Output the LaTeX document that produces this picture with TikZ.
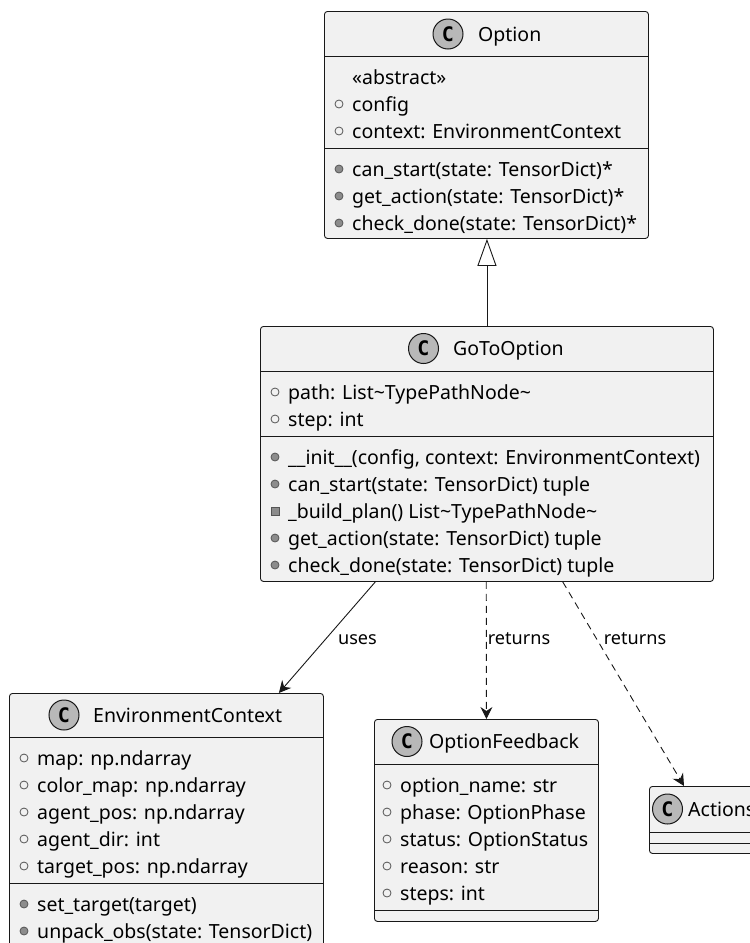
\documentclass[tikz,border=0pt]{standalone}
\usepackage{fontspec}
\setmainfont{Noto Sans}
\newfontfamily\badgefont{DejaVu Sans Mono}
\usetikzlibrary{arrows.meta,calc}

\definecolor{boxfill}{HTML}{F1F1F1}
\definecolor{ink}{HTML}{181818}
\definecolor{spot}{HTML}{B8B8B8}
\definecolor{dotfill}{HTML}{8C8C8C}
\definecolor{rim}{HTML}{555555}

\tikzset{
  classbox/.style={draw=ink, fill=boxfill, line width=0.9pt, rounded corners=3pt,
                   inner sep=0pt, anchor=north west},
  sep/.style={draw=ink, line width=0.9pt},
  rowtext/.style={anchor=base west, inner sep=0pt, font=\fontsize{19.5}{23}\selectfont},
  badge/.style={circle, draw=ink, fill=spot, line width=1pt, minimum size=30pt,
                inner sep=0pt, font=\fontsize{20}{20}\selectfont\badgefont\bfseries},
  fieldmark/.style={draw=rim, fill=boxfill, line width=0.8pt},
  methodmark/.style={draw=rim, fill=dotfill, line width=0.8pt},
  edgelabel/.style={font=\fontsize{18.1}{21}\selectfont, inner sep=0pt, anchor=base},
  link/.style={draw=ink, line width=0.9pt},
  tip/.style={-{Stealth[length=12pt,width=12pt,inset=4pt]}},
  returnslink/.style={link, tip, dash pattern=on 7pt off 5pt},
}

% rows of a class box: name, left edge of the box, row centre, text
\newcommand\fieldrow[4]{%
  \draw[fieldmark] (#2+15,#3) circle[radius=4pt];
  \node[rowtext] (#1) at (#2+28,#3+7) {#4};}
\newcommand\methodrow[4]{%
  \draw[methodmark] (#2+15,#3) circle[radius=4pt];
  \node[rowtext] (#1) at (#2+28,#3+7) {#4};}
\newcommand\privaterow[4]{%
  \draw[methodmark] (#2+11,#3-4) rectangle (#2+19,#3+4);
  \node[rowtext] (#1) at (#2+28,#3+7) {#4};}
\newcommand\plainrow[4]{%
  \node[rowtext] (#1) at (#2+28,#3+7) {#4};}

\begin{document}
\begin{tikzpicture}[x=1pt, y=-1pt]
\useasboundingbox (0,0) rectangle (750,943);
\clip (0,0) rectangle (750,943);

% ---------------- Option ----------------
\node[classbox, minimum width=324pt, minimum height=227pt] (option) at (324,11) {};
\draw[sep] (324,56) -- (648,56);
\draw[sep] (324,148) -- (648,148);
\node[badge] (optionC) at (448,34) {C};
\node[rowtext] (optionT) at (478,41) {Option};
\plainrow{opt1}{324}{77}{«abstract»}
\fieldrow{opt2}{324}{104}{config}
\fieldrow{opt3}{324}{131}{context: EnvironmentContext}
\methodrow{opt4}{324}{169}{can\_start(state: TensorDict)*}
\methodrow{opt5}{324}{196}{get\_action(state: TensorDict)*}
\methodrow{opt6}{324}{223}{check\_done(state: TensorDict)*}

% ---------------- GoToOption ----------------
\node[classbox, minimum width=453pt, minimum height=255pt] (goto) at (260,326) {};
\draw[sep] (260,371) -- (713,371);
\draw[sep] (260,436) -- (713,436);
\node[badge] (gotoC) at (423.5,348.5) {C};
\node[rowtext] (gotoT) at (453,355.5) {GoToOption};
\fieldrow{go1}{260}{392}{path: List\textasciitilde TypePathNode\textasciitilde}
\fieldrow{go2}{260}{419}{step: int}
\methodrow{go3}{260}{457}{\_\_init\_\_(config, context: EnvironmentContext)}
\methodrow{go4}{260}{484}{can\_start(state: TensorDict) tuple}
\privaterow{go5}{260}{511}{\_build\_plan() List\textasciitilde TypePathNode\textasciitilde}
\methodrow{go6}{260}{538}{get\_action(state: TensorDict) tuple}
\methodrow{go7}{260}{565}{check\_done(state: TensorDict) tuple}

% ---------------- EnvironmentContext ----------------
\node[classbox, minimum width=314pt, minimum height=280pt] (env) at (9,693) {};
\draw[sep] (9,737) -- (323,737);
\draw[sep] (9,883) -- (323,883);
\node[badge] (envC) at (64,715) {C};
\node[rowtext] (envT) at (93,722) {EnvironmentContext};
\fieldrow{en1}{9}{758}{map: np.ndarray}
\fieldrow{en2}{9}{785}{color\_map: np.ndarray}
\fieldrow{en3}{9}{812}{agent\_pos: np.ndarray}
\fieldrow{en4}{9}{839}{agent\_dir: int}
\fieldrow{en5}{9}{866}{target\_pos: np.ndarray}
\methodrow{en6}{9}{904}{set\_target(target)}
\methodrow{en7}{9}{931}{unpack\_obs(state: TensorDict)}

% ---------------- OptionFeedback ----------------
\node[classbox, minimum width=224pt, minimum height=202pt] (feedback) at (374,719) {};
\draw[sep] (374,764) -- (598,764);
\draw[sep] (374,910) -- (598,910);
\node[badge] (feedbackC) at (407,741.5) {C};
\node[rowtext] (feedbackT) at (429,748.5) {OptionFeedback};
\fieldrow{fb1}{372}{785}{option\_name: str}
\fieldrow{fb2}{372}{812}{phase: OptionPhase}
\fieldrow{fb3}{372}{839}{status: OptionStatus}
\fieldrow{fb4}{372}{866}{reason: str}
\fieldrow{fb5}{372}{893}{steps: int}

% ---------------- Actions ----------------
\node[classbox, minimum width=140pt, minimum height=67pt] (actions) at (649,786) {};
\draw[sep] (649,832) -- (789,832);
\draw[sep] (649,843) -- (789,843);
\node[badge] (actionsC) at (667.5,809) {C};
\node[rowtext] (actionsT) at (688,816) {Actions};

% ---------------- relations ----------------
\draw[link, -{Triangle[open, length=27pt, width=19pt, fill=white]}]
  (goto.north) -- (goto.north |- option.south);

\draw[link, tip] ($(goto.south west)!0.254!(goto.south east)$)
  -- ($(env.north west)!0.857!(env.north east)$);
\node[edgelabel] (usesL) at (357.5,644) {uses};

\draw[returnslink] ($(goto.south west)!0.4985!(goto.south east)$)
  -- (feedback.north);
\node[edgelabel] (ret1L) at (519,644) {returns};

\draw[returnslink] ($(goto.south west)!0.667!(goto.south east)$)
  -- ($(actions.north west)+(35,0)$);
\node[edgelabel] (ret2L) at (635,644) {returns};
\end{tikzpicture}
\end{document}
